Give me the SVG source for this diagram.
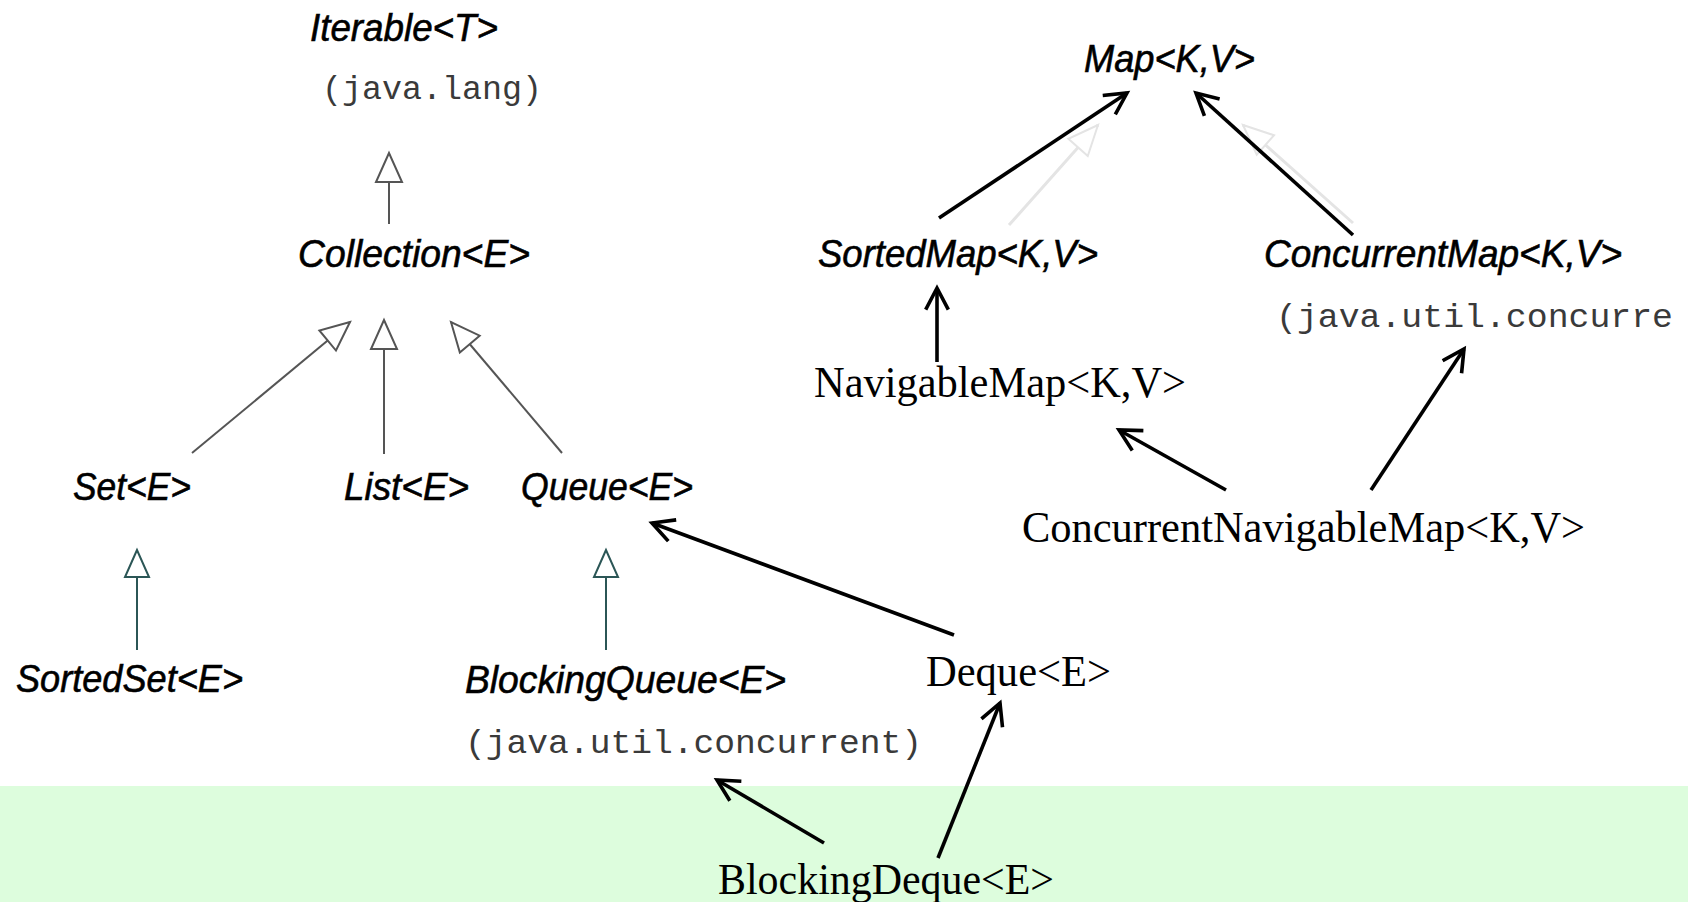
<svg xmlns="http://www.w3.org/2000/svg" width="1688" height="902" viewBox="0 0 1688 902">
  <style>
    .uml { font-family: "Liberation Sans", Arial, sans-serif; font-style: italic; font-size: 38px; fill: #000; stroke: #000; stroke-width: 0.6; }
    .pkg { font-family: "Liberation Mono", "Courier New", monospace; font-size: 34px; fill: #3a3a3a; }
    .plain { font-family: "Liberation Serif", "Times New Roman", serif; font-size: 45px; fill: #000; }
    .gen { fill: none; stroke: #555; stroke-width: 2; }
    .gen-teal { fill: none; stroke: #2b5656; stroke-width: 2; }
    .dep { fill: none; stroke: #000; stroke-width: 3.6; }
    .ghost { fill: none; stroke: #e4e4e4; stroke-width: 3; }
  </style>
  <defs>
    <!-- hollow UML generalization heads -->
    <marker id="tri-gray" viewBox="-32 -16 36 32" markerWidth="36" markerHeight="32" refX="0" refY="0" markerUnits="userSpaceOnUse" orient="auto" overflow="visible">
      <path d="M0,0 L-29,-13 L-29,13 Z" fill="#fff" stroke="#555" stroke-width="2" stroke-linejoin="miter"/>
    </marker>
    <marker id="tri-teal" viewBox="-32 -16 36 32" markerWidth="36" markerHeight="32" refX="0" refY="0" markerUnits="userSpaceOnUse" orient="auto" overflow="visible">
      <path d="M0,0 L-27,-12 L-27,12 Z" fill="#fff" stroke="#2b5656" stroke-width="2" stroke-linejoin="miter"/>
    </marker>
    <marker id="tri-ghost" viewBox="-32 -16 36 32" markerWidth="36" markerHeight="32" refX="0" refY="0" markerUnits="userSpaceOnUse" orient="auto" overflow="visible">
      <path d="M0,0 L-30,-13 L-30,13 Z" fill="#fff" stroke="#e4e4e4" stroke-width="2"/>
    </marker>
    <!-- open V arrowhead -->
    <marker id="vee" viewBox="-26 -14 30 28" markerWidth="30" markerHeight="28" refX="0" refY="0" markerUnits="userSpaceOnUse" orient="auto" overflow="visible">
      <path d="M-20,-10.5 L0,0 L-20,10.5" fill="none" stroke="#000" stroke-width="3.6" stroke-linecap="square"/>
    </marker>
  </defs>

  <!-- background and highlighted bottom band -->
  <rect x="0" y="0" width="1688" height="902" fill="#fff"/>
  <rect id="band" x="0" y="786" width="1688" height="116" fill="#ddfddd"/>

  <!-- connectors -->
  <g id="connectors">
    <!-- faint leftover generalizations in the map hierarchy -->
    <line class="ghost" x1="1009" y1="225" x2="1098" y2="125" marker-end="url(#tri-ghost)"/>
    <line class="ghost" x1="1353" y1="223" x2="1243" y2="125" marker-end="url(#tri-ghost)"/>

    <line class="gen" x1="389" y1="224" x2="389" y2="153" marker-end="url(#tri-gray)"/>
    <line class="gen" x1="192" y1="453" x2="350" y2="322" marker-end="url(#tri-gray)"/>
    <line class="gen" x1="384" y1="454" x2="384" y2="320" marker-end="url(#tri-gray)"/>
    <line class="gen" x1="562" y1="453" x2="451" y2="322" marker-end="url(#tri-gray)"/>
    <line class="gen-teal" x1="137" y1="650" x2="137" y2="550" marker-end="url(#tri-teal)"/>
    <line class="gen-teal" x1="606" y1="650" x2="606" y2="550" marker-end="url(#tri-teal)"/>

    <line class="dep" x1="939" y1="218" x2="1127" y2="93" marker-end="url(#vee)"/>
    <line class="dep" x1="1353" y1="235" x2="1196" y2="93" marker-end="url(#vee)"/>
    <line class="dep" x1="937" y1="362" x2="937" y2="288" marker-end="url(#vee)"/>
    <line class="dep" x1="1226" y1="490" x2="1119" y2="430" marker-end="url(#vee)"/>
    <line class="dep" x1="1371" y1="490" x2="1464" y2="349" marker-end="url(#vee)"/>
    <line class="dep" x1="954" y1="635" x2="652" y2="523" marker-end="url(#vee)"/>
    <line class="dep" x1="824" y1="843" x2="717" y2="780" marker-end="url(#vee)"/>
    <line class="dep" x1="938" y1="858" x2="1000" y2="703" marker-end="url(#vee)"/>
  </g>

  <!-- collection hierarchy -->
  <g id="iterable">
    <text class="uml" x="310" y="41" textLength="188" lengthAdjust="spacingAndGlyphs">Iterable&lt;T&gt;</text>
    <text class="pkg" x="322" y="99" textLength="220" lengthAdjust="spacingAndGlyphs">(java.lang)</text>
  </g>
  <g id="collection">
    <text class="uml" x="298" y="267" textLength="232" lengthAdjust="spacingAndGlyphs">Collection&lt;E&gt;</text>
  </g>
  <g id="set">
    <text class="uml" x="73" y="500" textLength="118" lengthAdjust="spacingAndGlyphs">Set&lt;E&gt;</text>
  </g>
  <g id="list">
    <text class="uml" x="344" y="500" textLength="125" lengthAdjust="spacingAndGlyphs">List&lt;E&gt;</text>
  </g>
  <g id="queue">
    <text class="uml" x="521" y="500" textLength="172" lengthAdjust="spacingAndGlyphs">Queue&lt;E&gt;</text>
  </g>
  <g id="sortedset">
    <text class="uml" x="16" y="692" textLength="227" lengthAdjust="spacingAndGlyphs">SortedSet&lt;E&gt;</text>
  </g>
  <g id="blockingqueue">
    <text class="uml" x="465" y="693" textLength="321" lengthAdjust="spacingAndGlyphs">BlockingQueue&lt;E&gt;</text>
    <text class="pkg" x="465" y="753" textLength="457" lengthAdjust="spacingAndGlyphs">(java.util.concurrent)</text>
  </g>
  <g id="deque">
    <text class="plain" x="926" y="686" textLength="185" lengthAdjust="spacingAndGlyphs">Deque&lt;E&gt;</text>
  </g>
  <g id="blockingdeque">
    <text class="plain" x="718" y="894" textLength="336" lengthAdjust="spacingAndGlyphs">BlockingDeque&lt;E&gt;</text>
  </g>

  <!-- map hierarchy -->
  <g id="map">
    <text class="uml" x="1084" y="72" textLength="171" lengthAdjust="spacingAndGlyphs">Map&lt;K,V&gt;</text>
  </g>
  <g id="sortedmap">
    <text class="uml" x="818" y="267" textLength="280" lengthAdjust="spacingAndGlyphs">SortedMap&lt;K,V&gt;</text>
  </g>
  <g id="concurrentmap">
    <text class="uml" x="1264" y="267" textLength="358" lengthAdjust="spacingAndGlyphs">ConcurrentMap&lt;K,V&gt;</text>
    <text class="pkg" x="1276" y="327" textLength="397" lengthAdjust="spacingAndGlyphs">(java.util.concurre</text>
  </g>
  <g id="navigablemap">
    <text class="plain" x="814" y="397" textLength="372" lengthAdjust="spacingAndGlyphs">NavigableMap&lt;K,V&gt;</text>
  </g>
  <g id="concurrentnavigablemap">
    <text class="plain" x="1022" y="542" textLength="563" lengthAdjust="spacingAndGlyphs">ConcurrentNavigableMap&lt;K,V&gt;</text>
  </g>
</svg>
